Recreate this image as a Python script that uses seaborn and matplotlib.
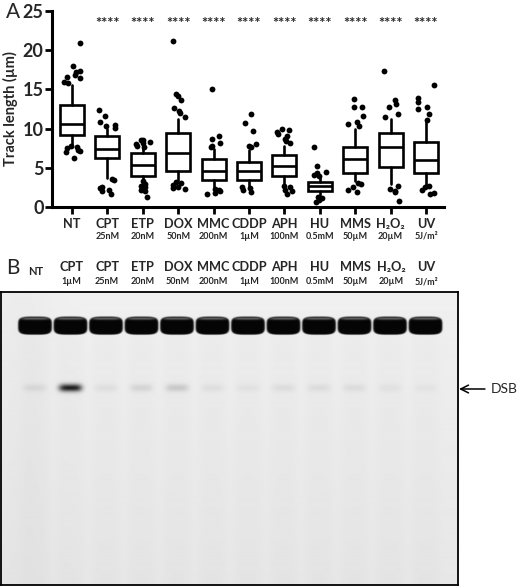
import numpy as np
import pandas as pd
import matplotlib.pyplot as plt
import seaborn as sns

# ---- panel A data (box stats, whiskers = 10-90 pct) ----
treatments = ['NT', 'CPT', 'ETP', 'DOX', 'MMC', 'CDDP', 'APH', 'HU', 'MMS', 'H2O2', 'UV']
tick_names = ['NT', 'CPT', 'ETP', 'DOX', 'MMC', 'CDDP', 'APH', 'HU', 'MMS', 'H₂O₂', 'UV']
doses = ['', '25nM', '20nM', '50nM', '200nM', '1µM', '100nM', '0.5mM', '50µM', '20µM', '5J/m²']
whisker_low = [7.9, 3.7, 2.8, 3.3, 2.4, 2.7, 2.8, 1.5, 3.3, 2.9, 2.8]
q1 = [9.2, 6.25, 3.9, 4.55, 3.5, 3.5, 3.9, 2.1, 4.4, 5.1, 4.3]
median = [10.6, 7.35, 5.3, 6.9, 4.55, 4.55, 5.2, 2.7, 6.1, 7.7, 5.95]
q3 = [13.0, 9.1, 6.9, 9.4, 6.1, 5.75, 6.65, 3.25, 7.6, 9.4, 8.35]
whisker_high = [15.5, 10.0, 7.5, 11.2, 7.4, 7.3, 7.8, 3.9, 10.0, 11.2, 11.0]
outliers = {
    'NT': [20.9, 18.0, 17.4, 17.2, 16.9, 16.6, 16.4, 16.0, 15.8, 7.8, 7.6, 7.5, 7.3, 7.2, 7.0, 6.3],
    'CPT': [12.4, 11.6, 10.9, 10.5, 10.3, 10.1, 3.6, 3.4, 2.5, 2.4, 2.2, 2.1, 1.7],
    'ETP': [8.6, 8.5, 8.3, 8.2, 8.0, 7.8, 7.6, 3.3, 2.9, 2.7, 2.5, 2.2, 2.0, 1.3],
    'DOX': [21.2, 14.4, 14.2, 13.7, 12.6, 12.2, 12.0, 11.5, 3.2, 3.0, 2.8, 2.6, 2.4, 2.3],
    'MMC': [15.1, 9.0, 8.7, 8.2, 7.8, 7.6, 2.3, 2.2, 2.0, 1.8, 1.6],
    'CDDP': [11.8, 10.7, 9.7, 8.0, 7.8, 7.6, 2.6, 2.4, 2.2, 1.9],
    'APH': [10.0, 9.8, 9.6, 9.3, 9.0, 8.7, 8.4, 8.1, 2.7, 2.5, 2.2, 2.0, 1.7],
    'HU': [7.7, 5.2, 4.5, 4.3, 4.1, 4.0, 1.3, 1.1, 0.9, 0.7],
    'MMS': [13.8, 12.8, 12.7, 11.6, 10.9, 10.6, 10.3, 3.1, 2.9, 2.6, 2.2, 1.9],
    'H2O2': [17.3, 13.6, 13.1, 12.8, 11.8, 11.5, 2.7, 2.3, 2.1, 1.9, 0.8],
    'UV': [15.6, 13.9, 13.4, 12.8, 12.5, 11.8, 11.1, 2.7, 2.5, 2.2, 1.8, 1.6],
}
significance = ['', '****', '****', '****', '****', '****', '****', '****', '****', '****', '****']

# ---- panel B data (gel lanes, relative DSB band intensity) ----
lane_names = ['NT', 'CPT', 'CPT', 'ETP', 'DOX', 'MMC', 'CDDP', 'APH', 'HU', 'MMS', 'H₂O₂', 'UV']
lane_doses = ['', '1µM', '25nM', '20nM', '50nM', '200nM', '1µM', '100nM', '0.5mM', '50µM', '20µM', '5J/m²']
dsb_intensity = [0.07, 0.85, 0.05, 0.09, 0.14, 0.05, 0.04, 0.06, 0.06, 0.06, 0.04, 0.03]

sns.set_theme(style="ticks")
plt.rcParams['font.family'] = ['Lato', 'DejaVu Sans']

W, H = 520, 587
fig = plt.figure(figsize=(W / 100, H / 100), dpi=100)

# ---------------- panel A ----------------
ax = fig.add_axes([52 / W, 1 - 207 / H, (444 - 52) / W, 196 / H])

df = pd.DataFrame([(t, v) for t in treatments for v in outliers[t]],
                  columns=['Treatment', 'Value'])
np.random.seed(4)
sns.stripplot(data=df, x='Treatment', y='Value', order=treatments, color='black',
              size=4.2, jitter=0.24, linewidth=0, ax=ax, zorder=3)

stats = [dict(med=median[i], q1=q1[i], q3=q3[i], whislo=whisker_low[i],
              whishi=whisker_high[i], fliers=[]) for i in range(len(treatments))]
lw = 1.9
ax.bxp(stats, positions=range(len(treatments)), widths=0.68, showfliers=False,
       showcaps=False, patch_artist=True, manage_ticks=False,
       boxprops=dict(facecolor='white', edgecolor='black', linewidth=lw),
       medianprops=dict(color='black', linewidth=lw),
       whiskerprops=dict(color='black', linewidth=lw), zorder=2)

ax.set_xlim(-0.565, 10.51)
ax.set_ylim(0, 25)
ax.set_yticks([0, 5, 10, 15, 20, 25])
ax.set_yticklabels(['0', '5', '10', '15', '20', '25'], fontsize=13, fontweight='bold')
ax.set_xticks(range(len(treatments)))
ax.set_xticklabels(tick_names, fontsize=9.2, fontweight='bold')
ax.tick_params(axis='both', direction='out', length=5, width=2, color='black', pad=3)
ax.tick_params(axis='y', pad=1)
ax.set_xlabel('')
ax.set_ylabel('Track length (µm)', fontsize=10.5, fontweight='bold', labelpad=3)
for side in ['left', 'bottom']:
    ax.spines[side].set_linewidth(2.2)
    ax.spines[side].set_color('black')
sns.despine(ax=ax)
ax.patch.set_alpha(0)

for i, d in enumerate(doses):
    if d:
        ax.text(i, -3.7, d, ha='center', va='center', fontsize=6.5, fontweight='bold',
                clip_on=False)
    if significance[i]:
        ax.text(i, 23.3, significance[i], ha='center', va='center', fontsize=10.5,
                fontweight='bold')

fig.text(6 / W, 1 - 12 / H, 'A', fontsize=15, va='center', ha='left')
fig.text(6 / W, 1 - 268 / H, 'B', fontsize=15, va='center', ha='left')

# ---------------- panel B (gel) ----------------
gx = fig.add_axes([1 / W, 1 - 585 / H, 457 / W, 293 / H])
gw, gh = 457, 293
res = 2
xs = (np.arange(gw * res) + 0.5) / res
ys = (np.arange(gh * res) + 0.5) / res
xx, yy = np.meshgrid(xs, ys)
img = 0.94 - 0.035 * (yy / gh) - 0.015 * np.exp(-((xx - 20) / 30) ** 2)

lane_x = [34 + 35.5 * i for i in range(len(lane_names))]
for cx, inten in zip(lane_x, dsb_intensity):
    dx = xx - cx
    # well
    r = (np.abs(dx) / 16.8) ** 4 + (np.abs(yy - 34.5) / 9.0) ** 4
    well = 1 / (1 + np.exp((r - 1) * 12))
    img = img * (1 - well) + 0.02 * well
    lip = np.exp(-(dx / 14) ** 6) * np.exp(-((yy - 27.5) / 1.3) ** 2)
    img = img * (1 - 0.5 * lip) + 0.75 * 0.5 * lip
    # DSB band
    band = np.exp(-(dx / 11.5) ** 4) * np.exp(-((yy - 96.5) / 3.8) ** 2)
    img = img - inten * 0.93 * band
    # faint lane streak
    img = img - 0.012 * np.exp(-(dx / 14) ** 4) * (yy > 45)

gx.imshow(np.clip(img, 0, 1), cmap='gray', vmin=0, vmax=1, extent=(0, gw, gh, 0),
          aspect='auto', interpolation='bilinear')
gx.set_xlim(0, gw)
gx.set_ylim(gh, 0)
gx.set_xticks([])
gx.set_yticks([])
for s in gx.spines.values():
    s.set_visible(True)
    s.set_linewidth(1.3)
    s.set_color('black')

for i, (cx, name, d) in enumerate(zip(lane_x, lane_names, lane_doses)):
    if d:
        gx.text(cx + 1, -25, name, ha='center', va='center', fontsize=9.2,
                fontweight='bold', clip_on=False)
        gx.text(cx + 1, -10, d, ha='center', va='center', fontsize=6.5,
                fontweight='bold', clip_on=False)
    else:
        gx.text(cx + 1, -20, name, ha='center', va='center', fontsize=8,
                fontweight='bold', clip_on=False)

gx.annotate('DSB', xy=(gw + 1, 97), xytext=(gw + 33, 97), ha='left', va='center',
            fontsize=10, annotation_clip=False,
            arrowprops=dict(arrowstyle='->', color='black', lw=1.1,
                            shrinkA=2, shrinkB=0, mutation_scale=14))

fig.savefig('out.png', dpi=100)
